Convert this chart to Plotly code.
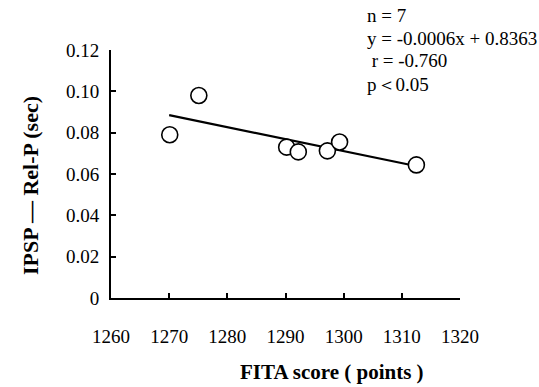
import plotly.graph_objects as go

# Data
fita_score = [1270.1, 1275.1, 1290.2, 1292.2, 1297.2, 1299.3, 1312.5]
ipsp_relp = [0.079, 0.098, 0.073, 0.0707, 0.0712, 0.0755, 0.0644]
trend_x = [1270, 1312]
trend_y = [0.0885, 0.0641]
x_ticks = [1260, 1270, 1280, 1290, 1300, 1310, 1320]
y_ticks = [0, 0.02, 0.04, 0.06, 0.08, 0.10, 0.12]
y_tick_labels = ["0", "0.02", "0.04", "0.06", "0.08", "0.10", "0.12"]
stats_lines = ["n = 7", "y = -0.0006x + 0.8363", " r = -0.760", "p\uff1c0.05"]

SERIF = "Liberation Serif, Times New Roman, serif"

fig = go.Figure()
fig.add_trace(go.Scatter(x=trend_x, y=trend_y, mode="lines",
                         line=dict(color="black", width=2.2), showlegend=False,
                         hoverinfo="skip"))
fig.add_trace(go.Scatter(x=fita_score, y=ipsp_relp, mode="markers",
                         marker=dict(symbol="circle", size=16, color="white",
                                     line=dict(color="black", width=1.6)),
                         showlegend=False))

fig.update_layout(
    width=539, height=387,
    margin=dict(l=111, r=79, t=50, b=89),
    plot_bgcolor="white", paper_bgcolor="white",
    font=dict(family=SERIF, color="black", size=16),
    xaxis=dict(range=[1260, 1320], tickvals=x_ticks, ticktext=[str(v) for v in x_ticks],
               showgrid=False, zeroline=False, showline=True, linecolor="black",
               linewidth=2, ticks="inside", ticklen=5, tickwidth=2, tickcolor="black",
               ticklabelstandoff=20, tickfont=dict(size=19, family=SERIF)),
    yaxis=dict(range=[0, 0.12], tickvals=y_ticks, ticktext=y_tick_labels,
               showgrid=False, zeroline=False, showline=True, linecolor="black",
               linewidth=2, ticks="inside", ticklen=5, tickwidth=2, tickcolor="black",
               ticklabelstandoff=6, tickfont=dict(size=19, family=SERIF)),
)

pw, ph = 539 - 111 - 79, 387 - 50 - 89


def px_to_paper(px, py):
    return (px - 111) / pw, (387 - 89 - py) / ph


annotations = []
for i, line in enumerate(stats_lines):
    ax, ay = px_to_paper(365, 15 + 23 * i)
    annotations.append(dict(x=ax, y=ay, xref="paper", yref="paper",
                            text=line, showarrow=False, xanchor="left", yanchor="middle",
                            font=dict(size=19, family=SERIF)))

ax, ay = px_to_paper(332, 372)
annotations.append(dict(x=ax, y=ay, xref="paper", yref="paper",
                        text="<b>FITA score ( points )</b>", showarrow=False,
                        xanchor="center", yanchor="middle",
                        font=dict(size=21, family=SERIF)))
ax, ay = px_to_paper(30, 186)
annotations.append(dict(x=ax, y=ay, xref="paper", yref="paper",
                        text="<b>IPSP \u2014 Rel-P (sec)</b>", showarrow=False, textangle=-90,
                        xanchor="center", yanchor="middle",
                        font=dict(size=22, family=SERIF)))
fig.update_layout(annotations=annotations)

fig.write_html("out.html")
